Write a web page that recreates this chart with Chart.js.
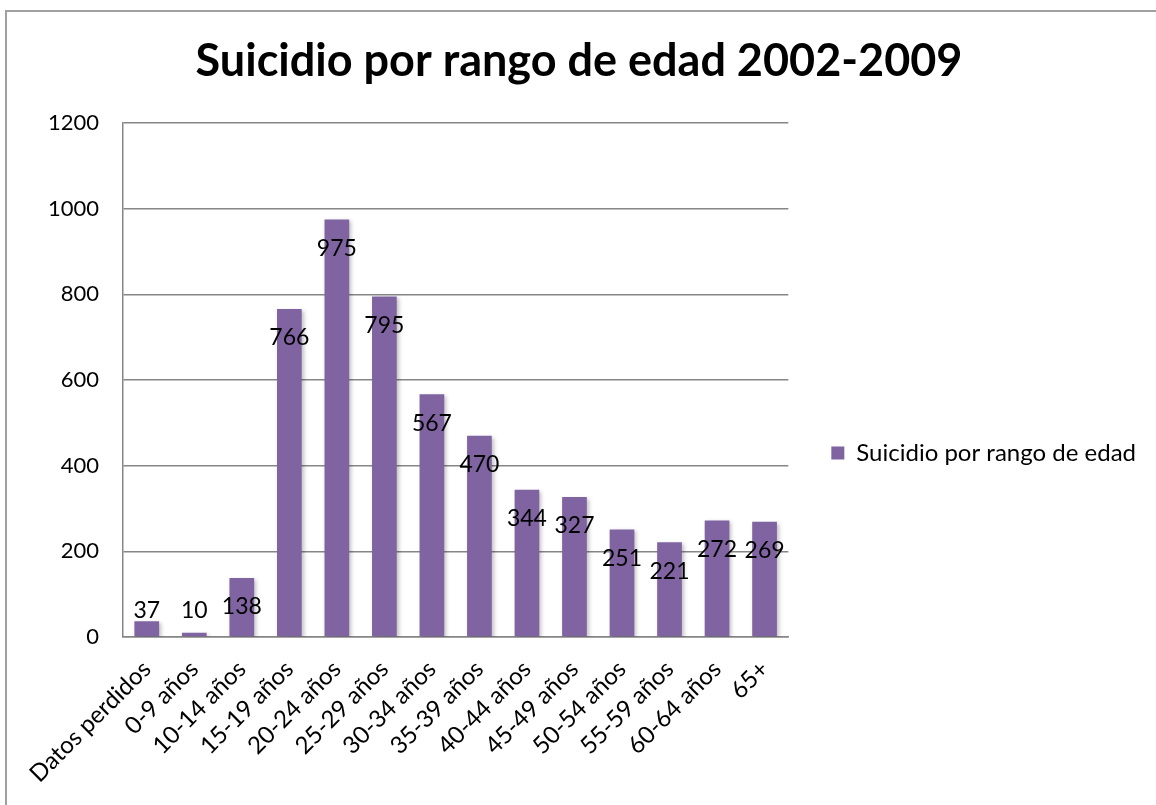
<!DOCTYPE html>
<html>
<head>
<meta charset="utf-8">
<script src="https://cdn.jsdelivr.net/npm/chart.js@4.4.0/dist/chart.umd.min.js"></script>
<style>
  html, body { margin: 0; padding: 0; background: #fff; overflow: hidden; }
  #frame { position: absolute; left: 5px; top: 10px; width: 1300px; height: 900px; border: 2px solid #a0a0a0; box-sizing: border-box; }
  #wrap { position: absolute; left: 0; top: 0; width: 1156px; height: 805px; }
</style>
</head>
<body>
<div id="frame"></div>
<div id="wrap"><canvas id="ageChart" width="1156" height="805"></canvas></div>
<script>
const categories = ['Datos perdidos', '0-9 años', '10-14 años', '15-19 años', '20-24 años', '25-29 años',
  '30-34 años', '35-39 años', '40-44 años', '45-49 años', '50-54 años', '55-59 años', '60-64 años', '65+'];
const suicides = [37, 10, 138, 766, 975, 795, 567, 470, 344, 327, 251, 221, 272, 269];
const yTicks = [0, 200, 400, 600, 800, 1000, 1200];

const FONT = 'Lato';
const barColor = '#8064A2';

// value labels just inside the top of each bar (kept above the axis for short bars)
const valueLabels = {
  id: 'valueLabels',
  beforeDatasetsDraw(chart) {
    const c = chart.ctx;
    c.save();
    c.shadowColor = 'rgba(0,0,0,0.25)';
    c.shadowBlur = 4;
    c.shadowOffsetX = 2;
    c.shadowOffsetY = 2;
  },
  afterDatasetsDraw(chart) {
    const c = chart.ctx;
    c.restore();
    c.save();
    c.font = '23px ' + FONT;
    c.fillStyle = '#000';
    c.textAlign = 'center';
    c.textBaseline = 'middle';
    chart.getDatasetMeta(0).data.forEach((bar, i) => {
      const y = Math.min(bar.y + 29, bar.base - 26);
      c.fillText(String(suicides[i]), bar.x, y);
    });
    c.restore();
  }
};

const ctx = document.getElementById('ageChart').getContext('2d');
const ageChart = new Chart(ctx, {
  type: 'bar',
  data: {
    labels: categories,
    datasets: [{
      label: 'Suicidio por rango de edad',
      data: suicides,
      backgroundColor: barColor,
      borderWidth: 0,
      categoryPercentage: 1,
      barPercentage: 0.52
    }]
  },
  options: {
    responsive: false,
    animation: false,
    layout: { padding: { left: 12, top: 0, bottom: 0, right: 10 } },
    plugins: {
      title: {
        display: true,
        text: 'Suicidio por rango de edad 2002-2009',
        color: '#000',
        font: { family: FONT, size: 45, weight: 'bold', lineHeight: 1.2 },
        padding: { top: 34, bottom: 35 }
      },
      legend: {
        position: 'right',
        maxWidth: 400,
        title: {
          display: true,
          text: ' ',
          font: { size: 1 },
          padding: { top: 0, bottom: 100 }
        },
        labels: {
          color: '#000',
          font: { family: FONT, size: 24 },
          boxWidth: 13,
          boxHeight: 13,
          padding: 43
        }
      },
      tooltip: { enabled: false }
    },
    scales: {
      x: {
        grid: { display: false, drawTicks: false },
        border: { display: true, color: '#868686', width: 1.5 },
        ticks: {
          color: '#000',
          font: { family: FONT, size: 24 },
          minRotation: 45,
          maxRotation: 45,
          autoSkip: false,
          padding: 18
        },
        afterFit(s) { s.height = 168; }
      },
      y: {
        min: 0,
        max: 1200,
        afterBuildTicks(s) { s.ticks = yTicks.map(v => ({ value: v })); },
        grid: { color: '#868686', lineWidth: 1.5, drawTicks: false },
        border: { display: true, color: '#868686', width: 1.5 },
        ticks: {
          color: '#000',
          font: { family: FONT, size: 22 },
          padding: 24,
          callback: v => String(v)
        },
        afterFit(s) { s.width = 111; }
      }
    }
  },
  plugins: [valueLabels]
});
</script>
</body>
</html>
